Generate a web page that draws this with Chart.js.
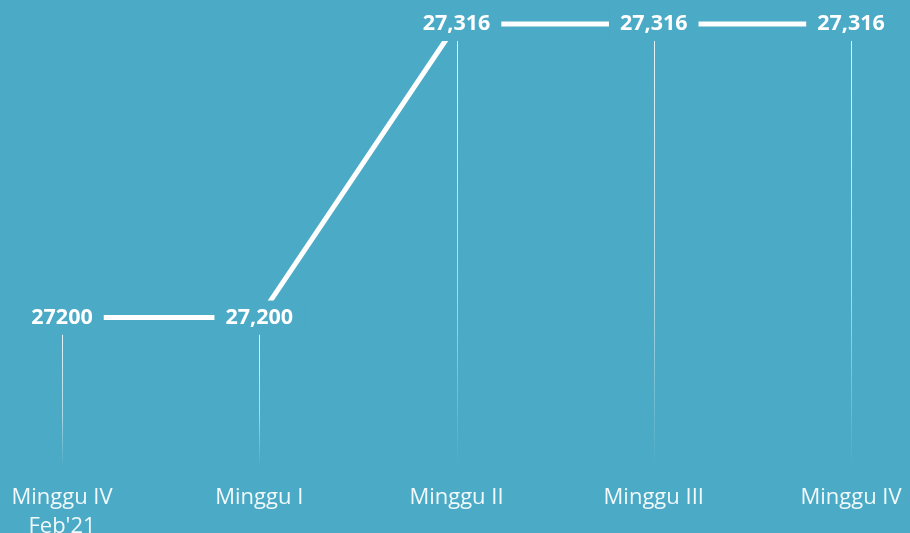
<!DOCTYPE html>
<html lang="id">
<head>
    <meta charset="UTF-8">
    <title>Minggu</title>
    <script src="https://cdn.jsdelivr.net/npm/chart.js"></script>
    <style>
        html, body { margin: 0; padding: 0; background: #4babc6; }
        #wrap { width: 910px; height: 533px; position: relative; }
    </style>
</head>
<body>
    <div id="wrap"><canvas id="chart"></canvas></div>

    <script>
        // data
        const categories = [["Minggu IV", "Feb'21"], "Minggu I", "Minggu II", "Minggu III", "Minggu IV"];
        const values = [27200, 27200, 27316, 27316, 27316];
        const valueLabels = ["27200", "27,200", "27,316", "27,316", "27,316"];

        const bg = "#4babc6";

        // background, drop lines, value labels that cut the line
        const decor = {
            id: "decor",
            beforeDraw(chart) {
                const ctx = chart.ctx;
                ctx.save();
                ctx.fillStyle = bg;
                ctx.fillRect(0, 0, chart.width, chart.height);
                ctx.restore();
            },
            beforeDatasetsDraw(chart) {
                const ctx = chart.ctx;
                const meta = chart.getDatasetMeta(0);
                const bottom = chart.chartArea.bottom + 4;
                ctx.save();
                meta.data.forEach(pt => {
                    const x = Math.round(pt.x) + 0.5;
                    const top = pt.y + 17;
                    const g = ctx.createLinearGradient(0, top, 0, bottom);
                    g.addColorStop(0, "rgba(255,255,255,0.85)");
                    g.addColorStop(0.6, "rgba(255,255,255,0.55)");
                    g.addColorStop(1, "rgba(255,255,255,0)");
                    ctx.strokeStyle = g;
                    ctx.lineWidth = 1;
                    ctx.beginPath();
                    ctx.moveTo(x, top);
                    ctx.lineTo(x, bottom);
                    ctx.stroke();
                });
                ctx.restore();
            },
            afterDatasetsDraw(chart) {
                const ctx = chart.ctx;
                const meta = chart.getDatasetMeta(0);
                ctx.save();
                ctx.font = "bold 21.5px 'Open Sans'";
                ctx.textAlign = "center";
                ctx.textBaseline = "middle";
                meta.data.forEach((pt, i) => {
                    const w = ctx.measureText(valueLabels[i]).width;
                    ctx.fillStyle = bg;
                    ctx.fillRect(pt.x - w / 2 - 11, pt.y - 17, w + 22, 34);
                    ctx.fillStyle = "#ffffff";
                    ctx.fillText(valueLabels[i], pt.x, pt.y);
                });
                ctx.restore();
            }
        };

        new Chart(document.getElementById("chart"), {
            type: "line",
            data: {
                labels: categories,
                datasets: [{
                    data: values,
                    borderColor: "#ffffff",
                    borderWidth: 5,
                    pointRadius: 0,
                    tension: 0,
                    clip: false
                }]
            },
            options: {
                responsive: true,
                maintainAspectRatio: false,
                animation: false,
                events: [],
                layout: { padding: { left: 62, right: 59, top: 24, bottom: -30 } },
                plugins: { legend: { display: false }, tooltip: { enabled: false } },
                scales: {
                    x: {
                        offset: false,
                        grid: { display: false, drawTicks: false },
                        border: { display: false },
                        ticks: {
                            color: "rgba(255,255,255,0.92)",
                            font: { family: "'Open Sans'", size: 22, lineHeight: 1.3 },
                            padding: 22,
                            maxRotation: 0,
                            autoSkip: false
                        },
                        // keep the label overflow from pushing the points inward
                        afterFit(scale) {
                            scale.paddingLeft = 0;
                            scale.paddingRight = 0;
                        }
                    },
                    y: {
                        display: false,
                        min: 27143,
                        max: 27316
                    }
                }
            },
            plugins: [decor]
        });
    </script>
</body>
</html>
